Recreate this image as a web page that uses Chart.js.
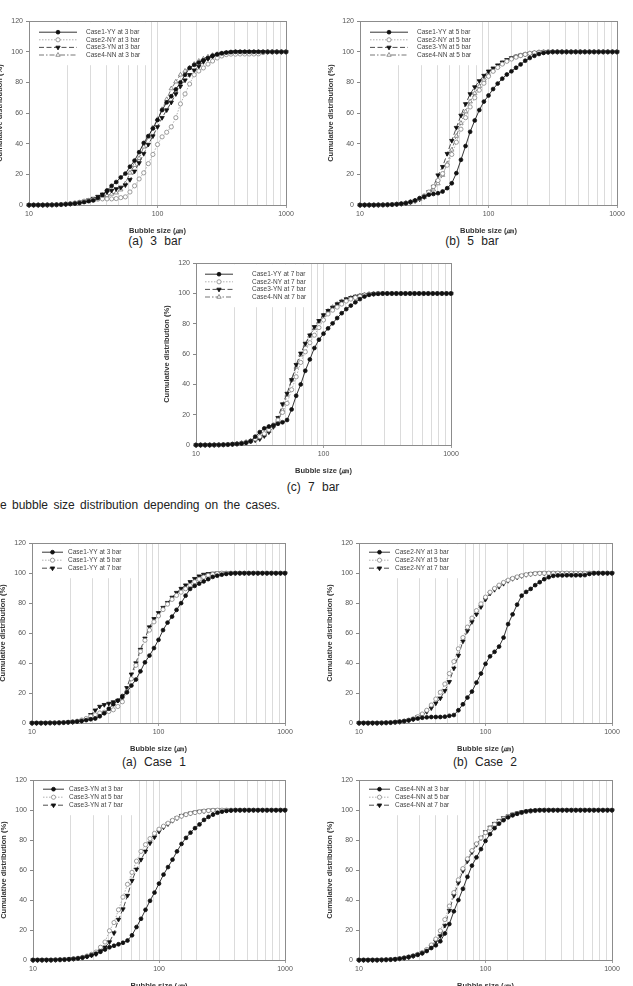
<!DOCTYPE html>
<html>
<head>
<meta charset="utf-8">
<script src="https://cdn.jsdelivr.net/npm/chart.js@4.4.0/dist/chart.umd.min.js"></script>
<style>
  html, body { margin: 0; padding: 0; background: #fff; }
  body { width: 633px; height: 986px; position: relative; overflow: hidden; font-family: "Liberation Sans", Arial, sans-serif; }
  canvas { position: absolute; }
  .cap { position: absolute; font-size: 12px; color: #222; white-space: nowrap; transform: translate(-50%, -50%); word-spacing: 4px; }
  .fig { position: absolute; left: 0; top: 498px; font-size: 12px; color: #222; word-spacing: 2px; white-space: nowrap; }
</style>
</head>
<body>
<div class="cap" style="left:155px;top:241px">(a) 3 bar</div>
<div class="cap" style="left:472px;top:241px">(b) 5 bar</div>
<div class="cap" style="left:313px;top:487px">(c) 7 bar</div>
<div class="fig">e bubble size distribution depending on the cases.</div>
<div class="cap" style="left:154px;top:762px">(a) Case 1</div>
<div class="cap" style="left:485px;top:762px">(b) Case 2</div>

<script>
// bubble size bins (um)
const sizes = [10, 10.86, 11.79, 12.8, 13.89, 15.09, 16.38, 17.78, 19.31, 20.96, 22.76, 24.71, 26.83, 29.13,
  31.62, 34.33, 37.28, 40.47, 43.94, 47.71, 51.79, 56.23, 61.05, 66.29, 71.97, 78.14, 84.83, 92.1,
  100, 108.6, 117.9, 128, 138.9, 150.9, 163.8, 177.8, 193.1, 209.6, 227.6, 247.1, 268.3, 291.3,
  316.2, 343.3, 372.8, 404.7, 439.4, 477.1, 517.9, 562.3, 610.5, 662.9, 719.7, 781.4, 848.3, 921, 1000];

const xTickLabels = [10, 100, 1000];

// cumulative distribution (%)
const case1_3bar = [0, 0, 0, 0, 0.1, 0.1, 0.2, 0.3, 0.5, 0.7, 1.0, 1.4, 1.9, 2.5,
  3, 4.5, 6.5, 9.5, 12.5, 15, 18, 20.5, 25, 29, 34.5, 40.5, 45, 50,
  55.5, 62, 67, 71, 75.5, 80, 85, 89.5, 91.5, 93, 94.5, 96, 97.5, 98.3,
  99, 99.5, 99.8, 100, 100, 100, 100, 100, 100, 100, 100, 100, 100, 100, 100];
const case1_5bar = [0, 0, 0, 0, 0.1, 0.1, 0.2, 0.3, 0.5, 0.8, 1.2, 2, 3, 4.5,
  5.5, 6.7, 7.2, 7.7, 8.8, 11, 14.2, 20.8, 29.5, 38.5, 47.8, 55.2, 62, 67.5,
  71.5, 75.7, 79.3, 82.5, 85.2, 87.3, 89.6, 91.8, 94.2, 96, 97.4, 98.6, 99.3, 99.7,
  100, 100, 100, 100, 100, 100, 100, 100, 100, 100, 100, 100, 100, 100, 100];
const case1_7bar = [0, 0, 0, 0, 0.1, 0.1, 0.2, 0.3, 0.5, 0.7, 1, 1.5, 2.5, 5.5,
  8.5, 11, 12.2, 13, 14, 15, 16.5, 23.5, 32.5, 40, 49, 56.5, 64, 69.5,
  73.5, 77, 80.3, 83.8, 87, 89.7, 92, 94.2, 96.3, 98, 99.1, 99.6, 99.8, 100,
  100, 100, 100, 100, 100, 100, 100, 100, 100, 100, 100, 100, 100, 100, 100];

const case2_3bar = [0, 0, 0, 0, 0, 0.1, 0.2, 0.3, 0.6, 0.9, 1.3, 1.8, 2.5, 3,
  3.5, 3.8, 4, 4, 4, 4.2, 4.8, 5.3, 8.5, 12.5, 17, 21, 27, 33,
  39.5, 44.5, 47.5, 51, 57, 66, 72.5, 79, 85, 87.5, 89.5, 92, 94, 96,
  97.3, 98.2, 98.5, 98.5, 98.6, 98.6, 98.6, 98.6, 98.7, 99.5, 100, 100, 100, 100, 100];
const case2_5bar = [0, 0, 0, 0, 0, 0.1, 0.2, 0.3, 0.5, 0.8, 1.2, 1.9, 2.8, 4.2,
  6, 8.5, 12, 16, 20.5, 26, 33, 41, 49.5, 57, 64, 70, 75, 79.5,
  84, 87.3, 89.8, 92, 93.8, 95.3, 96.5, 97.5, 98.3, 99, 99.4, 99.7, 99.9, 100,
  100, 100, 100, 100, 100, 100, 100, 100, 100, 100, 100, 100, 100, 100, 100];
const case2_7bar = [0, 0, 0, 0, 0, 0.1, 0.2, 0.3, 0.5, 0.8, 1.2, 1.8, 2.6, 4,
  5.5, 7.5, 10, 13.2, 16.5, 21.5, 27.5, 36.5, 45, 54.5, 61.5, 67.5, 72.5, 77.5,
  82.5, 86.5, 89, 91, 93, 95, 96.3, 97.3, 98.2, 99, 99.5, 99.8, 100, 100,
  100, 100, 100, 100, 100, 100, 100, 100, 100, 100, 100, 100, 100, 100, 100];

const case3_3bar = [0, 0, 0, 0, 0, 0.1, 0.2, 0.3, 0.5, 0.8, 1.1, 1.6, 2.3, 3.2,
  4.2, 5.5, 7, 8.5, 9.5, 10.5, 11.5, 13, 16.5, 22, 27.5, 33.5, 39.5, 45,
  51, 57, 62, 67, 72.5, 77.5, 81.5, 85, 88, 90.5, 93.5, 95.5, 97, 98.3,
  99, 99.5, 99.8, 100, 100, 100, 100, 100, 100, 100, 100, 100, 100, 100, 100];
const case3_5bar = [0, 0, 0, 0, 0, 0.1, 0.2, 0.3, 0.5, 0.8, 1.2, 1.8, 2.7, 3.8,
  5.3, 8.5, 12, 19.5, 25, 33.5, 42, 50.5, 58.5, 66, 72.5, 77, 81, 84.5,
  87.3, 89.3, 91.3, 93.2, 94.8, 96, 97, 97.8, 98.4, 98.9, 99.4, 99.7, 99.9, 100,
  100, 100, 100, 100, 100, 100, 100, 100, 100, 100, 100, 100, 100, 100, 100];
const case3_7bar = [0, 0, 0, 0, 0, 0.1, 0.2, 0.3, 0.5, 0.8, 1.1, 1.6, 2.3, 3.2,
  4, 6, 8.5, 12, 18, 27, 34, 43, 53, 60.5, 67, 72.5, 78, 82,
  85.8, 88.6, 90.8, 93, 94.8, 96.3, 97.2, 98, 98.6, 99.1, 99.5, 99.8, 100, 100,
  100, 100, 100, 100, 100, 100, 100, 100, 100, 100, 100, 100, 100, 100, 100];

// Case4 at 3 bar as plotted in the pressure figure (a)
const case4_3bar_byPressure = [0, 0, 0, 0, 0, 0.1, 0.2, 0.3, 0.6, 0.8, 1.1, 1.5, 2, 2.6,
  3.3, 4.2, 5.2, 6.3, 7.2, 8, 10, 14, 21, 26, 30.5, 38, 44.5, 50.5,
  56, 62.5, 69, 76, 80.5, 85, 87.5, 89.5, 92, 94, 95.5, 96.8, 97.8, 98.5,
  99, 99.4, 99.7, 100, 100, 100, 100, 100, 100, 100, 100, 100, 100, 100, 100];
const case4_3bar = [0, 0, 0, 0, 0, 0.1, 0.2, 0.3, 0.5, 0.9, 1.4, 2, 2.7, 3.5,
  4.5, 6, 8, 9.8, 12.5, 17.7, 24, 32.5, 40, 47.5, 55.5, 63, 68.5, 74,
  79.5, 84, 88, 91, 93.3, 95.2, 96.6, 97.6, 98.5, 99.2, 99.6, 99.8, 100, 100,
  100, 100, 100, 100, 100, 100, 100, 100, 100, 100, 100, 100, 100, 100, 100];
const case4_5bar = [0, 0, 0, 0, 0, 0.1, 0.2, 0.3, 0.5, 0.9, 1.4, 2, 2.8, 3.8,
  5, 7, 10, 14, 19.5, 27, 36, 45, 53.5, 61, 67.5, 73, 77.5, 81.5,
  85, 88, 90.5, 92.5, 94.3, 95.7, 96.8, 97.7, 98.4, 99, 99.4, 99.7, 99.9, 100,
  100, 100, 100, 100, 100, 100, 100, 100, 100, 100, 100, 100, 100, 100, 100];
const case4_7bar = [0, 0, 0, 0, 0, 0.1, 0.2, 0.3, 0.5, 0.9, 1.3, 1.9, 2.7, 3.6,
  4.8, 6.5, 9, 12.5, 16, 23, 33, 43, 51.5, 59.5, 66, 72, 77, 81.5,
  85.5, 88.5, 91, 93, 94.8, 96, 97.2, 98, 98.7, 99.2, 99.6, 99.8, 100, 100,
  100, 100, 100, 100, 100, 100, 100, 100, 100, 100, 100, 100, 100, 100, 100];

const fontFam = '"Liberation Sans", Arial, sans-serif';

// line / marker look by legend row
const STYLES = [
  { borderColor: '#1e1e1e', borderDash: [], pointStyle: 'circle', pointRotation: 0, pointRadius: 1.9,
    pointBackgroundColor: '#111', pointBorderColor: '#111' },
  { borderColor: '#a8a8a8', borderDash: [1.5, 1.5], pointStyle: 'circle', pointRotation: 0, pointRadius: 2.1,
    pointBackgroundColor: '#fff', pointBorderColor: '#858585' },
  { borderColor: '#3a3a3a', borderDash: [5, 2.5], pointStyle: 'triangle', pointRotation: 180, pointRadius: 2.5,
    pointBackgroundColor: '#111', pointBorderColor: '#111' },
  { borderColor: '#666', borderDash: [5, 2, 1.5, 2], pointStyle: 'triangle', pointRotation: 0, pointRadius: 2.5,
    pointBackgroundColor: '#fff', pointBorderColor: '#777' }
];

const LEG_WIDE = { lineX: 10, lineLen: 38, textX: 57, rowY: 11, rowGap: 7.6, boxW: 118, boxH: 43 };
const LEG_C = { lineX: 9, lineLen: 28, textX: 56, rowY: 11, rowGap: 7.6, boxW: 112, boxH: 43 };
const LEG_CASE = { lineX: 10, lineLen: 21, textX: 36, rowY: 9, rowGap: 8, boxW: 98, boxH: 34 };

const panels = [
  { L: 29, R: 286, T: 20, B: 205, leg: LEG_WIDE,
    series: [case1_3bar, case2_3bar, case3_3bar, case4_3bar_byPressure],
    labels: ['Case1-YY at 3 bar', 'Case2-NY at 3 bar', 'Case3-YN at 3 bar', 'Case4-NN at 3 bar'] },
  { L: 360, R: 617, T: 20, B: 205, leg: LEG_WIDE,
    series: [case1_5bar, case2_5bar, case3_5bar, case4_5bar],
    labels: ['Case1-YY at 5 bar', 'Case2-NY at 5 bar', 'Case3-YN at 5 bar', 'Case4-NN at 5 bar'] },
  { L: 196, R: 451, T: 262, B: 445, leg: LEG_C,
    series: [case1_7bar, case2_7bar, case3_7bar, case4_7bar],
    labels: ['Case1-YY at 7 bar', 'Case2-NY at 7 bar', 'Case3-YN at 7 bar', 'Case4-NN at 7 bar'] },
  { L: 32, R: 285, T: 542, B: 723, leg: LEG_CASE,
    series: [case1_3bar, case1_5bar, case1_7bar],
    labels: ['Case1-YY at 3 bar', 'Case1-YY at 5 bar', 'Case1-YY at 7 bar'] },
  { L: 359, R: 612, T: 542, B: 723, leg: LEG_CASE,
    series: [case2_3bar, case2_5bar, case2_7bar],
    labels: ['Case2-NY at 3 bar', 'Case2-NY at 5 bar', 'Case2-NY at 7 bar'] },
  { L: 33, R: 285, T: 779, B: 960, leg: LEG_CASE,
    series: [case3_3bar, case3_5bar, case3_7bar],
    labels: ['Case3-YN at 3 bar', 'Case3-YN at 5 bar', 'Case3-YN at 7 bar'] },
  { L: 359, R: 612, T: 779, B: 960, leg: LEG_CASE,
    series: [case4_3bar, case4_5bar, case4_7bar],
    labels: ['Case4-NN at 3 bar', 'Case4-NN at 5 bar', 'Case4-NN at 7 bar'] }
];

// box round the plot area
const framePlugin = {
  id: 'frame',
  beforeDatasetsDraw(chart) {
    const { ctx, chartArea: a } = chart;
    ctx.save();
    ctx.strokeStyle = '#8c8c8c';
    ctx.lineWidth = 1;
    ctx.strokeRect(Math.round(a.left) + 0.5, Math.round(a.top) + 0.5,
      Math.round(a.right - a.left), Math.round(a.bottom - a.top));
    ctx.restore();
  }
};

// legend sitting inside the plot, top left, on a white patch
const legendPlugin = {
  id: 'boxLegend',
  afterDatasetsDraw(chart, args, o) {
    const { ctx, chartArea: a } = chart;
    ctx.save();
    ctx.fillStyle = '#fff';
    ctx.fillRect(a.left + 1, a.top + 1, o.boxW, o.boxH);
    ctx.font = '6.5px ' + fontFam;
    ctx.textBaseline = 'middle';
    chart.data.datasets.forEach((ds, i) => {
      const y = a.top + o.rowY + i * o.rowGap;
      const x0 = a.left + o.lineX, x1 = x0 + o.lineLen;
      ctx.strokeStyle = ds.borderColor;
      ctx.lineWidth = ds.borderWidth;
      ctx.setLineDash(ds.borderDash);
      ctx.beginPath(); ctx.moveTo(x0, y); ctx.lineTo(x1, y); ctx.stroke();
      ctx.setLineDash([]);
      ctx.fillStyle = ds.pointBackgroundColor;
      ctx.strokeStyle = ds.pointBorderColor;
      ctx.lineWidth = ds.pointBorderWidth;
      Chart.helpers.drawPoint(ctx, { pointStyle: ds.pointStyle, rotation: ds.pointRotation,
        radius: ds.pointRadius, borderWidth: ds.pointBorderWidth }, (x0 + x1) / 2, y);
      ctx.fillStyle = '#444';
      ctx.fillText(ds.label, a.left + o.textX, y);
    });
    ctx.restore();
  }
};

function makePanel(p) {
  const padL = 34, padR = 12, padT = 6, padB = 30;
  const w = p.R - p.L + padL + padR, h = p.B - p.T + padT + padB;
  const cv = document.createElement('canvas');
  cv.width = w; cv.height = h;
  cv.style.width = w + 'px'; cv.style.height = h + 'px';
  cv.style.left = (p.L - padL) + 'px';
  cv.style.top = (p.T - padT) + 'px';
  document.body.appendChild(cv);

  const datasets = p.series.map((vals, i) => Object.assign({
    label: p.labels[i],
    data: sizes.map((s, k) => ({ x: s, y: vals[k] })),
    borderWidth: 0.9,
    pointBorderWidth: 0.8,
    fill: false,
    tension: 0,
    clip: 4
  }, STYLES[i]));

  new Chart(cv, {
    type: 'line',
    data: { datasets },
    options: {
      responsive: false,
      animation: false,
      devicePixelRatio: 1,
      layout: { padding: { left: 0, right: padR, top: padT, bottom: 0 } },
      plugins: { legend: { display: false }, tooltip: { enabled: false }, boxLegend: p.leg },
      scales: {
        x: {
          type: 'logarithmic', min: 10, max: 1000,
          afterFit: s => { s.height = padB; },
          border: { display: false },
          grid: { color: '#d2d2d2', lineWidth: 0.8, tickLength: 3,
            tickColor: c => (c.tick && xTickLabels.includes(c.tick.value)) ? '#888' : 'rgba(0,0,0,0)' },
          ticks: { autoSkip: false, maxRotation: 0, padding: 2, color: '#555',
            font: { size: 7, family: fontFam },
            callback: v => xTickLabels.includes(v) ? String(v) : '' },
          title: { display: true, text: 'Bubble size (㎛)', color: '#333', padding: 0,
            font: { size: 7.5, weight: 'bold', family: fontFam } }
        },
        y: {
          min: 0, max: 120,
          afterFit: s => { s.width = padL; },
          border: { display: false },
          grid: { drawOnChartArea: false, tickLength: 3, tickColor: '#888' },
          ticks: { stepSize: 20, padding: 3, color: '#555', font: { size: 7, family: fontFam } },
          title: { display: true, text: 'Cumulative distribution (%)', color: '#333', padding: 0,
            font: { size: 7.5, weight: 'bold', family: fontFam } }
        }
      }
    },
    plugins: [framePlugin, legendPlugin]
  });
}

panels.forEach(makePanel);
</script>
</body>
</html>
